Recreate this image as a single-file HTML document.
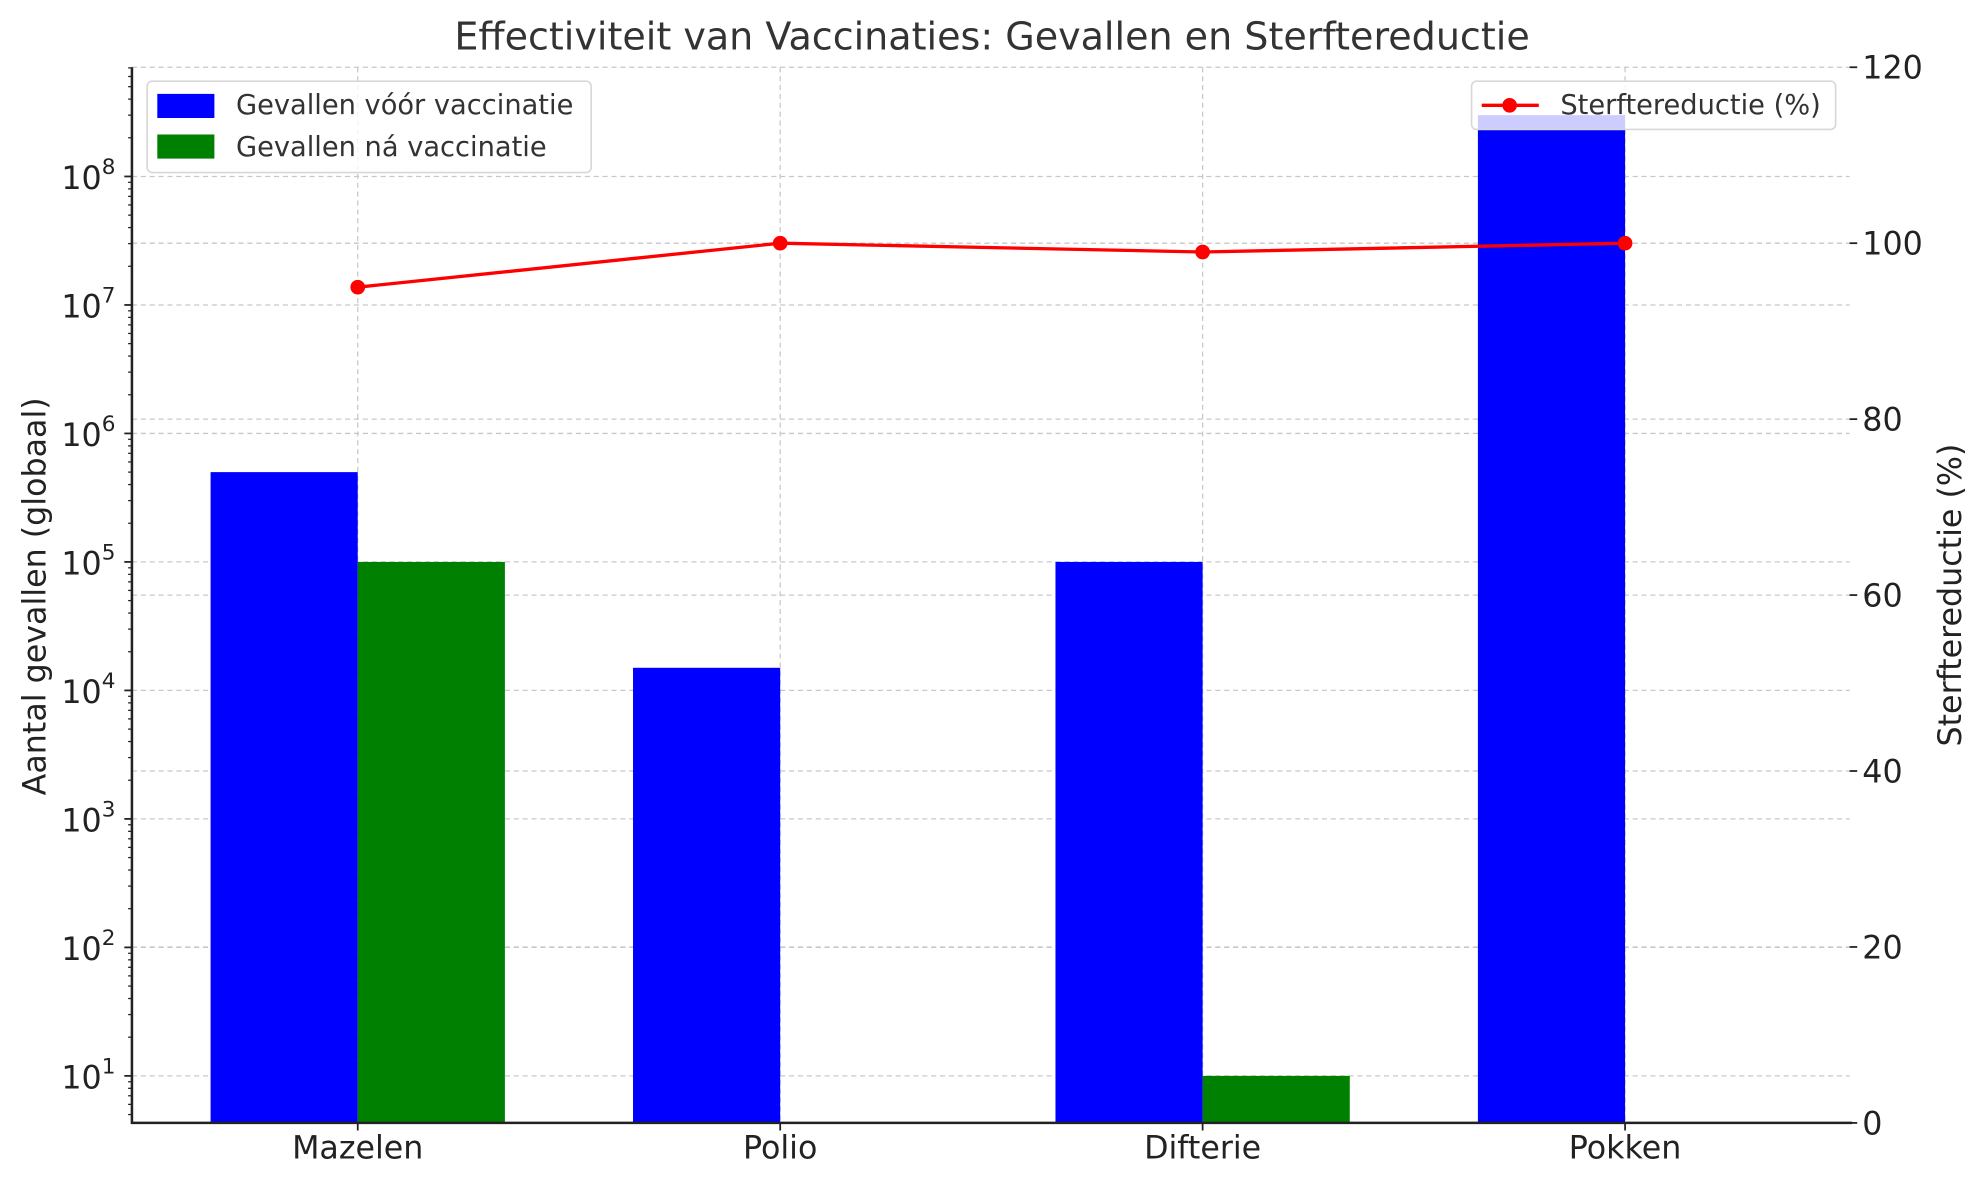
<!DOCTYPE html>
<html><head><meta charset="utf-8"><style>
html,body{margin:0;padding:0;background:#fff}
svg{display:block;font-family:"DejaVu Sans","Liberation Sans",sans-serif}
</style></head><body>
<svg id="chart" width="1979" height="1180" viewBox="0 0 1560 930" preserveAspectRatio="none" xmlns="http://www.w3.org/2000/svg">
<text x="782" y="39" font-size="30" fill="#333" text-anchor="middle">Effectiviteit van Vaccinaties: Gevallen en Sterftereductie</text>
<g id="grid"></g><g id="bars"></g><g id="line"></g><g id="axes"></g>
<text transform="translate(36,470) rotate(-90)" font-size="25" fill="#222" text-anchor="middle">Aantal gevallen (globaal)</text>
<text transform="translate(1546,469) rotate(-90)" font-size="25" fill="#222" text-anchor="middle">Sterftereductie (%)</text>
<g id="legends"></g>
</svg>
<script>
const categories = ["Mazelen", "Polio", "Difterie", "Pokken"];
const casesBefore = [500000, 15000, 100000, 300000000];
const casesAfter = [100000, 0, 10, 0];
const mortalityReduction = [95, 100, 99, 100];
const leftTickExps = [1, 2, 3, 4, 5, 6, 7, 8];
const rightTicks = [0, 20, 40, 60, 80, 100, 120];

const NS = "http://www.w3.org/2000/svg";
const L = 104, R = 1458, T = 53, B = 885;
const logMin = 0.634, logMax = 8.85;
function yLog(v){ const lv = Math.log10(v); return B - (lv - logMin) / (logMax - logMin) * (B - T); }
function yRight(v){ return B - v / 120 * (B - T); }
function xCat(i){ return 282 + i * 333; }
const barW = 116;
function mk(tag, attrs, parent){ const e = document.createElementNS(NS, tag); for (const k in attrs) e.setAttribute(k, attrs[k]); parent.appendChild(e); return e; }
const grid = document.getElementById('grid'), bars = document.getElementById('bars'), line = document.getElementById('line'), axes = document.getElementById('axes'), legends = document.getElementById('legends');
const gs = {stroke:"#c8c8c8","stroke-width":1,"stroke-dasharray":"4,3"};

leftTickExps.forEach(e => {
  const y = yLog(Math.pow(10, e));
  const g = mk('line', Object.assign({x1:L,x2:R,y1:y,y2:y}, gs), grid);
  
  
});
rightTicks.forEach(v => {
  const y = yRight(v);
  const g = mk('line', Object.assign({x1:L,x2:R,y1:y,y2:y}, gs), grid);
  
  
});
categories.forEach((c, i) => {
  const g = mk('line', Object.assign({x1:xCat(i),x2:xCat(i),y1:T,y2:B}, gs), grid);
  
  
});

categories.forEach((c, i) => {
  if (casesBefore[i] > 0) {
    const y = Math.max(T, yLog(casesBefore[i]));
    const r = mk('rect', {x:xCat(i)-barW, y:y, width:barW, height:B-y, fill:"#0000ff"}, bars);
    
    
  }
  if (casesAfter[i] > 0) {
    const y = Math.max(T, yLog(casesAfter[i]));
    const r = mk('rect', {x:xCat(i), y:y, width:barW, height:B-y, fill:"#008000"}, bars);
    
    
  }
});

const pts = mortalityReduction.map((v, i) => xCat(i) + "," + yRight(v)).join(" ");
const pl = mk('polyline', {points:pts, fill:"none", stroke:"#ff0000", "stroke-width":2.6}, line);


mortalityReduction.forEach((v, i) => {
  const c = mk('circle', {cx:xCat(i), cy:yRight(v), r:5.8, fill:"#ff0000"}, line);
  
  
});

const ax = mk('path', {d:`M${L},${T} V${B} H${R+2}`, fill:"none", stroke:"#222", "stroke-width":2}, axes);


for (let e = 0; e <= 8; e++) {
  for (let m = 1; m <= 9; m++) {
    const v = m * Math.pow(10, e);
    const lv = Math.log10(v);
    if (lv < logMin || lv > logMax) continue;
    const y = yLog(v);
    const len = m === 1 ? 6 : 3;
    const t = mk('line', {x1:L-len, x2:L, y1:y, y2:y, stroke:"#222", "stroke-width": m===1?1.4:1}, axes);
    
    
  }
}
leftTickExps.forEach(e => {
  const y = yLog(Math.pow(10, e));
  const t = mk('text', {x:L-13, y:y+10, "font-size":25, fill:"#222", "text-anchor":"end"}, axes);
  
  
  t.textContent = "10";
  const s = mk('tspan', {dy:-12, "font-size":17}, t);
  s.textContent = String(e);
});
rightTicks.forEach(v => {
  const y = yRight(v);
  const tk = mk('line', {x1:R, x2:R+6, y1:y, y2:y, stroke:"#222", "stroke-width":1.4}, axes);
  
  
  const t = mk('text', {x:R+10, y:y+9, "font-size":25, fill:"#222"}, axes);
  
  
  t.textContent = String(v);
});
categories.forEach((c, i) => {
  const tk = mk('line', {x1:xCat(i), x2:xCat(i), y1:B, y2:B+6, stroke:"#222", "stroke-width":1.4}, axes);
  
  
  const t = mk('text', {x:xCat(i), y:B+28, "font-size":25, fill:"#222", "text-anchor":"middle"}, axes);
  
  
  t.textContent = c;
});

const lg1 = mk('g', {}, legends);


mk('rect', {x:116, y:64, width:350, height:72, rx:4, fill:"#fff", "fill-opacity":0.8, stroke:"#d8d8d8", "stroke-width":1.3}, lg1);
const e1 = mk('rect', {x:124, y:74, width:45, height:19, fill:"#0000ff"}, lg1);


const t1 = mk('text', {x:186, y:90, "font-size":21.5, fill:"#333"}, lg1);


t1.textContent = "Gevallen vóór vaccinatie";
const e2 = mk('rect', {x:124, y:106, width:45, height:19, fill:"#008000"}, lg1);


const t2 = mk('text', {x:186, y:123, "font-size":21.5, fill:"#333"}, lg1);


t2.textContent = "Gevallen ná vaccinatie";

const lg2 = mk('g', {}, legends);


mk('rect', {x:1160, y:64, width:287, height:38, rx:4, fill:"#fff", "fill-opacity":0.8, stroke:"#d8d8d8", "stroke-width":1.3}, lg2);
const ll = mk('line', {x1:1168, x2:1213, y1:83, y2:83, stroke:"#ff0000", "stroke-width":2.6}, lg2);


mk('circle', {cx:1190, cy:83, r:5.8, fill:"#ff0000"}, lg2);
const t3 = mk('text', {x:1230, y:90, "font-size":21.5, fill:"#333"}, lg2);


t3.textContent = "Sterftereductie (%)";
</script>
</body></html>
